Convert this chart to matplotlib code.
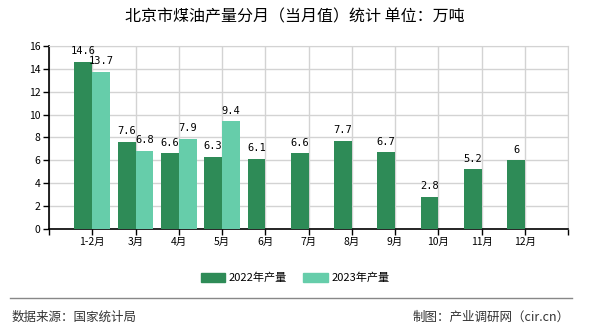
import numpy as np
import matplotlib
matplotlib.use('Agg')
import matplotlib.pyplot as plt
from matplotlib.patches import Patch

plt.rcParams['font.family'] = ['Noto Sans CJK SC', 'DejaVu Sans']

# Monthly kerosene output, Beijing (10k tonnes)
months = ['1-2月', '3月', '4月', '5月', '6月', '7月', '8月', '9月', '10月', '11月', '12月']
out_2022 = [14.6, 7.6, 6.6, 6.3, 6.1, 6.6, 7.7, 6.7, 2.8, 5.2, 6]
out_2023 = [13.7, 6.8, 7.9, 9.4]
labels_2022 = ['14.6', '7.6', '6.6', '6.3', '6.1', '6.6', '7.7', '6.7', '2.8', '5.2', '6']
labels_2023 = ['13.7', '6.8', '7.9', '9.4']

c22 = '#2e8b57'
c23 = '#66cdaa'

fig = plt.figure(figsize=(5.9, 3.3), dpi=100)
ax = fig.add_axes([0.083, 0.306, 0.88, 0.555])

x = np.arange(len(months))
w = 0.41
ax.bar(x - w / 2, out_2022, width=w, color=c22, zorder=3)
x23 = np.arange(len(out_2023))
ax.bar(x23 + w / 2, out_2023, width=w, color=c23, zorder=3)

for xi, v, s in zip(x, out_2022, labels_2022):
    ax.text(xi - w / 2, v + 0.5, s, ha='center', va='bottom', fontsize=7.5,
            family='DejaVu Sans Mono', zorder=4)
for xi, v, s in zip(x23, out_2023, labels_2023):
    ax.text(xi + w / 2, v + 0.5, s, ha='center', va='bottom', fontsize=7.5,
            family='DejaVu Sans Mono', zorder=4)

ax.set_xlim(-1, len(months))
ax.set_ylim(0, 16)
ax.set_yticks(np.arange(0, 17, 2))
ax.set_xticks(np.arange(-1, len(months) + 1))
ax.set_xticklabels([''] + months + [''])
ax.tick_params(axis='both', labelsize=7.5, length=4, width=1, color='black',
               direction='out', pad=2)

ax.grid(True, color='#d3d3d3', linewidth=1, zorder=0)
for side in ['top', 'right']:
    ax.spines[side].set_color('#d3d3d3')
for side in ['left', 'bottom']:
    ax.spines[side].set_color('black')
    ax.spines[side].set_linewidth(1.2)

fig.text(0.5, 0.948, '北京市煤油产量分月（当月值）统计 单位：万吨', ha='center',
         va='center', fontsize=11.5)

handles = [Patch(color=c22, label='2022年产量'), Patch(color=c23, label='2023年产量')]
fig.legend(handles=handles, loc='center', bbox_to_anchor=(0.5, 0.158), ncol=2,
           frameon=False, fontsize=8, handlelength=2.2, handleheight=0.9,
           columnspacing=1.5, handletextpad=0.3)

fig.add_artist(plt.Line2D([0.017, 0.969], [0.097, 0.097], color='#888888', linewidth=1))
fig.text(0.02, 0.039, '数据来源：国家统计局', ha='left', va='center', fontsize=9,
         color='#333333')
fig.text(0.966, 0.039, '制图：产业调研网（cir.cn）', ha='right', va='center', fontsize=9,
         color='#333333')

fig.savefig('out.png', dpi=100)
